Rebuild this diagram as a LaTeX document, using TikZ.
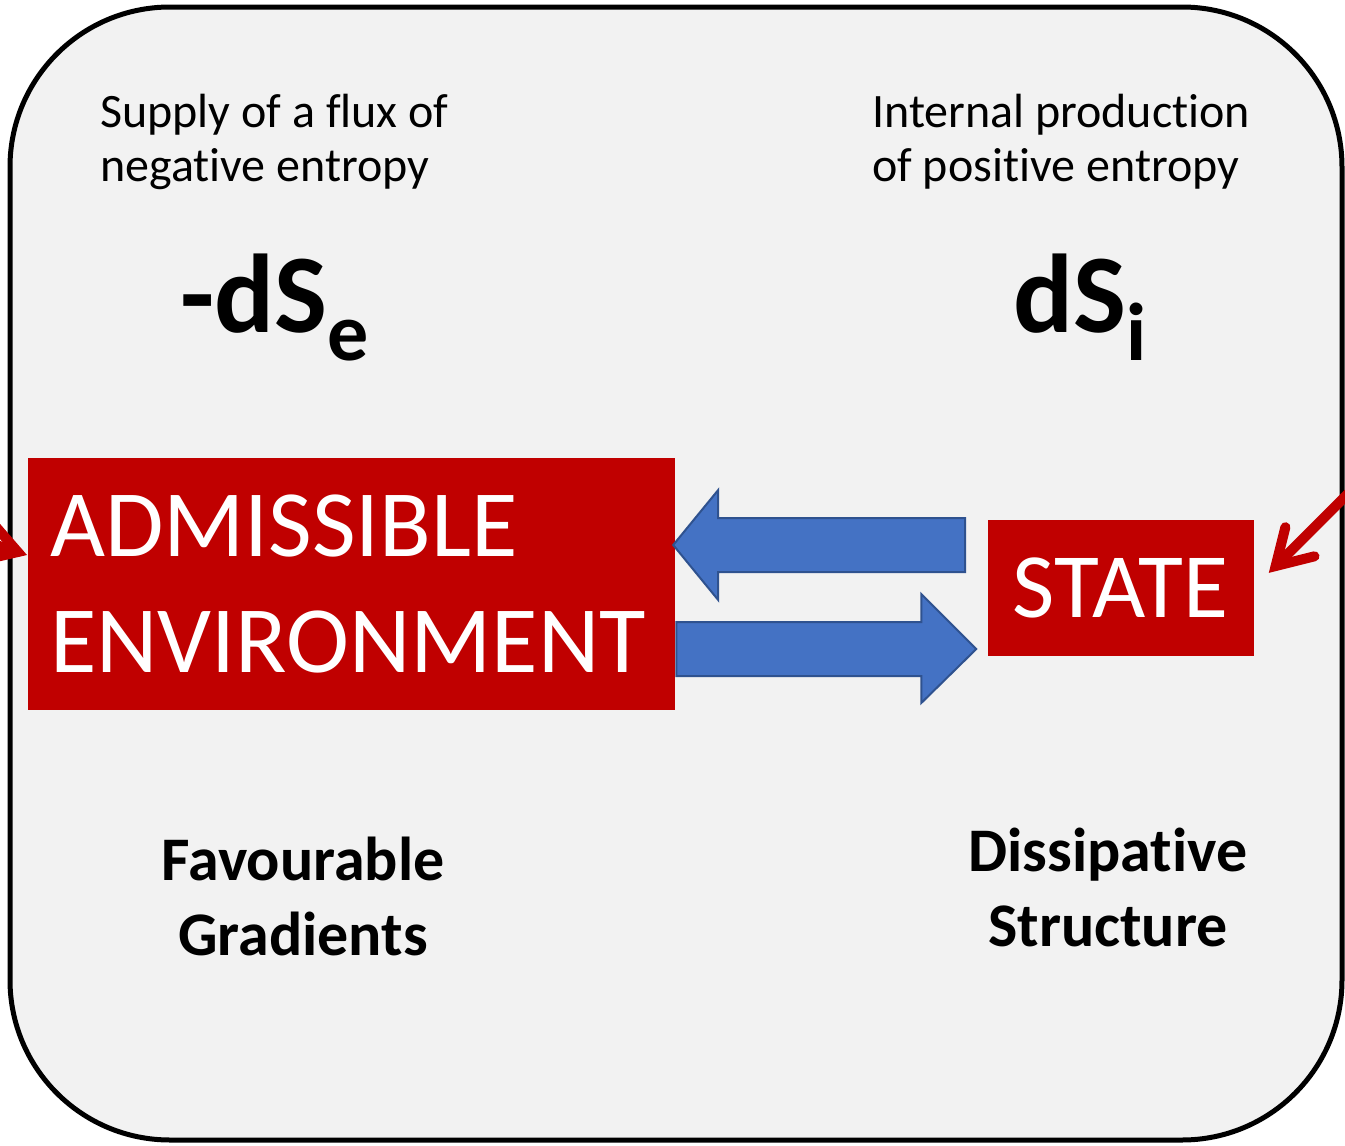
\documentclass[tikz,border=0pt]{standalone}
\usepackage{fontspec}
\setmainfont{Carlito}[Ligatures=NoCommon]
\usetikzlibrary{calc}
\definecolor{bgc}{HTML}{F2F2F2}
\definecolor{redc}{HTML}{C00000}
\definecolor{bluef}{HTML}{4472C4}
\definecolor{blued}{HTML}{2F528F}
\begin{document}
\begin{tikzpicture}[x=1pt,y=-1pt,
  redbox/.style={fill=redc,text=white,inner sep=0pt},
  blockarrow/.style={fill=bluef,draw=blued,line width=2pt,line join=miter},
  redarrow/.style={draw=redc,line width=10pt,line cap=round,line join=miter},
  smalltext/.style={font=\fontsize{48}{54}\selectfont,align=left,anchor=base west,inner sep=0pt},
  bigsym/.style={font=\bfseries\fontsize{112}{112}\selectfont,anchor=base west,inner sep=0pt},
  boldlabel/.style={font=\bfseries\fontsize{62}{75}\selectfont,align=center,anchor=base,inner sep=0pt}]
\useasboundingbox (0,0) rectangle (1345,1146);
\fill[white] (0,0) rectangle (1345,1146);
\draw[line width=5pt,fill=bgc,rounded corners=160pt] (10,7) rectangle (1342,1140);

\node[redbox, minimum width=647pt, minimum height=252pt, text width=603pt, inner xsep=22pt,
      align=left, font=\fontsize{95}{116}\selectfont] (env) at (351.5,584) {ADMISSIBLE\\ENVIRONMENT};
\node[redbox, minimum width=266pt, minimum height=136pt, font=\fontsize{92}{92}\selectfont]
      (state) at (1120.5,588) {STATE};

\node[smalltext] (supply) at (100,181) {Supply of a flux of\\negative entropy};
\node[smalltext] (internal) at (872,181) {Internal production\\of positive entropy};
\node[bigsym] (dse) at (180,332) {-dS\raisebox{-28pt}{\fontsize{82}{82}\selectfont e}};
\node[bigsym] (dsi) at (1013,332) {dS\raisebox{-28pt}{\fontsize{82}{82}\selectfont i}};
\node[boldlabel] (fav) at (303,955) {Favourable\\Gradients};
\node[boldlabel] (diss) at (1108,946) {Dissipative\\Structure};

% block arrows between the boxes
\draw[blockarrow] ($(env.east)+(-2,-39)$) -- ++(45,-55) -- ++(0,28) -- ++(247,0)
   -- ++(0,54) -- ++(-247,0) -- ++(0,28) -- cycle;
\draw[blockarrow] ($(state.west)+(-11,61)$) -- ++(-55,-55) -- ++(0,28) -- ++(-245,0)
   -- ++(0,54) -- ++(245,0) -- ++(0,27) -- cycle;

% red line arrows entering from outside
\coordinate (rtip) at ($(state.east)+(22,-22)$);
\coordinate (rfrom) at ($(rtip)+(140,-140)$);
\coordinate (ltip) at ($(env.west)+(-10,-32)$);
\coordinate (lfrom) at ($(ltip)+(-190,-62)$);
\begin{scope}
\clip (0,0) rectangle (1345,1146);
\draw[redarrow] (rfrom) -- (rtip);
\draw[redarrow] ($(rtip)+(9.7,-38.8)$) -- (rtip) -- ++(38.8,-9.7);
\draw[redarrow] (lfrom) -- (ltip);
\draw[redarrow] ($(ltip)+(-26.2,-30.2)$) -- (ltip) -- ++(-39,9);
\end{scope}
\end{tikzpicture}
\end{document}
